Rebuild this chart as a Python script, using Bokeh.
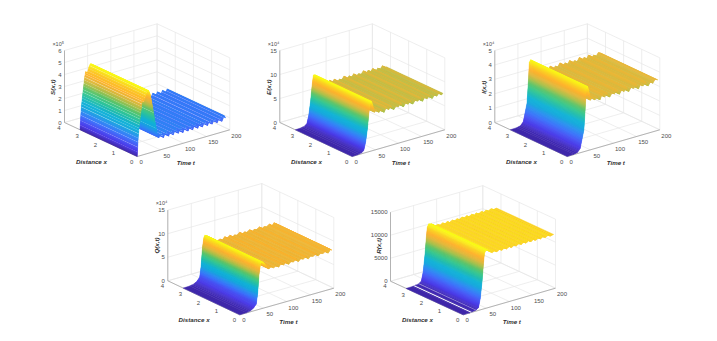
import numpy as np
from bokeh.core.properties import value
from bokeh.embed import file_html
from bokeh.layouts import column, row
from bokeh.models import ColumnDataSource, Spacer
from bokeh.plotting import figure
from bokeh.resources import INLINE

# ---------- values ----------
x_ticks = [0, 1, 2, 3, 4]
t_ticks = [0, 50, 100, 150, 200]

s_ticks = [0, 1, 2, 3, 4, 5, 6]
s_t = [0, 1, 2.2, 4.3, 7, 10, 12, 14, 16, 19, 22, 25, 28, 32, 38, 43, 47,
       52, 57, 62, 68, 73, 78, 83, 89, 94, 99, 104, 110, 115, 120, 125, 131, 136, 141, 146,
       152, 157, 162, 167, 173, 178, 183, 188, 191]
s_z = [0, 0.8, 1.6, 2.4, 3.3, 4.3, 4.7, 4.4, 4.6, 5.0, 5.25, 5.2, 4.9, 4.05, 2.6, 1.5, 1.05,
       1.45, 0.95, 1.45, 0.95, 1.4, 0.95, 1.4, 0.95, 1.4, 0.9, 1.35, 0.9, 1.35, 0.9, 1.35, 0.9, 1.35, 0.9, 1.3,
       0.9, 1.3, 0.9, 1.3, 0.9, 1.3, 0.9, 1.3, 1.1]
s_streaks = [0.4, 0.9, 1.5, 2.0, 2.8, 3.4, 4.0, 4.7, 5.3, 6.1, 6.8, 7.6, 8.3, 9.1, 9.8, 10.7, 11.4, 13.5, 16.5, 18, 20,
             35, 41, 50, 53, 55, 60, 63, 65, 71, 74, 76, 81, 84, 86, 92, 95, 97, 102, 105, 107, 113, 116, 118, 123,
             126, 128, 134, 137, 139, 144, 147, 149, 155, 158, 160, 165, 168, 170, 176, 179, 181, 186]

e_ticks = [0, 5, 10, 15]
e_t = [0, 12, 20, 25, 29, 33, 36, 39, 42, 45, 48,
       53, 58, 63, 69, 74, 79, 84, 90, 95, 100, 105, 111, 116, 121, 126, 131, 136, 142, 147,
       152, 157, 162, 167, 173, 178, 183, 188, 193, 196]
e_z = [0, 0.05, 0.2, 0.6, 2.2, 5.0, 8.0, 10.3, 10.3, 9.2, 7.9,
       8.2, 7.6, 8.0, 7.3, 8.25, 7.6, 8.2, 7.3, 7.9, 7.6, 8.25, 7.3, 8.0, 7.55, 8.15, 7.3, 7.9, 7.6, 8.2,
       7.3, 8.0, 7.55, 8.1, 7.3, 7.9, 7.5, 8.1, 7.5, 7.7]

i_ticks = [0, 1, 2, 3, 4, 5]
i_t = [0, 14, 22, 28, 32, 36, 39, 41, 44, 47, 50,
       55, 60, 65, 71, 76, 81, 86, 92, 97, 102, 107, 113, 118, 123, 128, 133, 138, 144, 149,
       154, 159, 164, 169, 175, 180, 185, 190, 196]
i_z = [0, 0.02, 0.08, 0.3, 0.9, 1.5, 3.0, 4.3, 4.45, 4.1, 3.45,
       3.62, 3.38, 3.55, 3.28, 3.64, 3.38, 3.62, 3.28, 3.52, 3.4, 3.65, 3.28, 3.55, 3.38, 3.62, 3.28, 3.52, 3.4, 3.64,
       3.28, 3.55, 3.38, 3.62, 3.28, 3.52, 3.38, 3.6, 3.5]

q_ticks = [0, 5, 10, 15]
q_t = [0, 14, 22, 29, 35, 38, 41, 44, 46, 50, 55, 62,
       67, 72, 78, 83, 88, 93, 99, 104, 109, 114, 120, 125, 130, 135, 141, 146, 151, 156,
       162, 167, 172, 177, 183, 188, 193, 196]
q_z = [0, 0.05, 0.2, 0.6, 1.3, 3.5, 7.5, 9.5, 9.9, 9.7, 9.0, 8.0,
       8.35, 7.95, 8.2, 7.8, 8.4, 7.95, 8.4, 7.8, 8.2, 8.0, 8.45, 7.8, 8.25, 8.0, 8.4, 7.8, 8.2, 8.0,
       8.4, 7.8, 8.2, 8.0, 8.4, 7.8, 8.4, 8.2]

r_ticks = [0, 5000, 10000, 15000]
r_t = [0, 14, 27, 33, 37, 41, 44, 46, 49, 54, 63,
       68, 73, 79, 84, 89, 94, 100, 105, 110, 115, 121, 126, 131, 136, 142, 147, 152, 157,
       163, 168, 173, 178, 184, 189, 196]
r_z = [0, 20, 200, 600, 2500, 6200, 10000, 12000, 12600, 12500, 11700,
       11950, 11600, 11950, 11600, 11950, 11600, 11950, 11600, 11950, 11650, 12000, 11650, 12000, 11650,
       12000, 11650, 12000, 11650, 12000, 11650, 12000, 11650, 12000, 11650, 11800]
r_gaps = [8, 16, 25]

parula = ["#3e26a8", "#4736e6", "#4752f4", "#3a72fa", "#2a8ef0", "#14a8dc", "#11b2d6",
          "#20bcb0", "#37c78f", "#5cc46a", "#a8c04a", "#e0b83c", "#feb22e", "#fbd024", "#f9fb15"]

# ---------- drawing style and placement ----------
FONT = "Liberation Sans"
X_END = np.pi
rgb_stops = np.array([[int(c[i:i + 2], 16) for i in (1, 3, 5)] for c in parula], float)


def shade(v):
    pos = np.clip(v, 0, 1) * (len(parula) - 1)
    rgb = [np.interp(pos, np.arange(len(parula)), rgb_stops[:, k]) for k in range(3)]
    return "#%02x%02x%02x" % tuple(int(round(c)) for c in rgb)


def panel(bounds, origin, x_end, t_end, dz, ztop, zticks, tt, zz, name, exp,
          streaks=(), gaps=()):
    left, top, right, bottom = bounds
    p = figure(width=right - left, height=bottom - top, x_range=(left, right), y_range=(bottom, top),
               x_axis_location=None, y_axis_location=None, toolbar_location=None,
               output_backend="svg", min_border=0, outline_line_color=None,
               background_fill_color="white", border_fill_color="white")
    p.grid.visible = False
    origin = np.array(origin, float)
    vx = (np.array(x_end, float) - origin) / 4
    vt = (np.array(t_end, float) - origin) / 200
    vz = np.array([0, -dz / ztop], float)

    def proj(x, t, z):
        return origin + vx * x + vt * t + vz * z

    # walls and floor
    gx, gy = [], []

    def seg(a, b):
        gx.append([a[0], b[0]])
        gy.append([a[1], b[1]])

    for z in zticks:
        seg(proj(4, 0, z), proj(4, 200, z))
        seg(proj(4, 200, z), proj(0, 200, z))
    for t in t_ticks:
        seg(proj(4, t, 0), proj(4, t, ztop))
        seg(proj(0, t, 0), proj(4, t, 0))
    for x in x_ticks:
        seg(proj(x, 200, 0), proj(x, 200, ztop))
        seg(proj(x, 0, 0), proj(x, 200, 0))
    p.multi_line(gx, gy, line_color="#e6e6e6", line_width=0.7)

    ax = [proj(4, 0, ztop), proj(4, 0, 0), proj(0, 0, 0), proj(0, 200, 0)]
    p.line([a[0] for a in ax], [a[1] for a in ax], line_color="#9a9a9a", line_width=0.7)

    # surface, painted from the far end of t to the near end
    tt = np.array(tt, float)
    zz = np.array(zz, float)
    zmax = zz.max()
    quads = []

    def quad(t0, z0, t1, z1, colour, alpha=1.0, edge=True):
        a, b = proj(0, t0, z0), proj(0, t1, z1)
        c, d = proj(X_END, t1, z1), proj(X_END, t0, z0)
        quads.append(((t0 + t1) / 2, [a[0], b[0], c[0], d[0]], [a[1], b[1], c[1], d[1]],
                      colour, alpha, colour if edge else None))

    for i in range(len(tt) - 1):
        n = max(1, int(np.ceil(abs(zz[i + 1] - zz[i]) / zmax * 120)))
        for k in range(n):
            f0, f1 = k / n, (k + 1) / n
            t0, t1 = tt[i] + (tt[i + 1] - tt[i]) * f0, tt[i] + (tt[i + 1] - tt[i]) * f1
            z0, z1 = zz[i] + (zz[i + 1] - zz[i]) * f0, zz[i] + (zz[i + 1] - zz[i]) * f1
            quad(t0, z0, t1, z1, shade((z0 + z1) / 2 / zmax))

    def sliver(t, thickness, alpha):
        dt = 0.01
        z0, z1 = np.interp([t, t + dt], tt, zz)
        v = (proj(0, t + dt, z1) - proj(0, t, z0)) / dt
        ux = vx / np.hypot(*vx)
        per_t = abs(v[0] * ux[1] - v[1] * ux[0])
        w = thickness / max(per_t, 1e-6)
        z0, z1 = np.interp([t, t + w], tt, zz)
        quad(t, z0, t + w, z1, "#ffffff", alpha, False)
        quads[-1] = (t - 0.001,) + quads[-1][1:]

    for t in streaks:
        sliver(t, 0.6, 0.65)
    for t in gaps:
        sliver(t, 1.0, 1.0)

    quads.sort(key=lambda q: -q[0])
    src = ColumnDataSource(dict(xs=[q[1] for q in quads], ys=[q[2] for q in quads],
                                c=[q[3] for q in quads], a=[q[4] for q in quads],
                                e=[q[5] if q[5] else "#ffffff" for q in quads],
                                w=[0.5 if q[5] else 0 for q in quads]))
    p.patches("xs", "ys", source=src, fill_color="c", fill_alpha="a", line_color="e",
              line_width="w", line_alpha="a")

    # texts
    def text(x, y, s, size, colour="#4d4d4d", align="center", angle=0, style="normal"):
        p.text([x], [y], text=[s], text_font=value(FONT), text_font_size=size, text_color=colour,
               text_align=align, text_baseline="middle", angle=angle, text_font_style=style)

    for x in x_ticks:
        a = proj(x, 0, 0)
        text(a[0] - 5.5, a[1] + 5, str(x), "6px")
    for t in t_ticks:
        a = proj(0, t, 0)
        dx, dy = (4, 5) if t == 0 else (6.5, 6)
        text(a[0] + dx, a[1] + dy, str(t), "6px")
    for z in zticks:
        a = proj(4, 0, z)
        text(a[0] - 3, a[1], str(z), "6px", align="right")
    text(origin[0] - 45.7, origin[1] + 4.8, "Distance x", "6.2px", "#303030", style="bold italic")
    text(origin[0] + 48.6, origin[1] + 6.3, "Time t", "6.2px", "#303030", style="bold italic")
    corner = proj(4, 0, 0)
    text(corner[0] - 11.7, corner[1] - 35.3, name, "6.2px", "#303030", angle=np.pi / 2, style="bold italic")
    if exp:
        top_c = proj(4, 0, ztop)
        text(top_c[0] - 6.3, top_c[1] - 6.7, exp, "5.5px")
    return p


p1 = panel((0, 0, 245, 172), (136.7, 156), (64, 122), (229.3, 129.3), 72, 6, s_ticks, s_t, s_z,
           "S(x,t)", "×10⁵", streaks=s_streaks)
p2 = panel((245, 0, 470, 172), (351.7, 156), (279.3, 122), (444.3, 129.3), 72, 15, e_ticks, e_t, e_z,
           "E(x,t)", "×10⁴")
p3 = panel((470, 0, 701, 172), (566.7, 156), (494.3, 122), (659.3, 129.3), 72, 5, i_ticks, i_t, i_z,
           "I(x,t)", "×10⁴")
p4 = panel((150, 172, 355, 325), (239.3, 314.3), (167.3, 280.3), (333.3, 287.7), 70.7, 15, q_ticks, q_t, q_z,
           "Q(x,t)", "×10⁴")
p5 = panel((355, 172, 600, 325), (462.7, 314.3), (390, 280.7), (555, 287.7), 69, 15000, r_ticks, r_t, r_z,
           "R(x,t)", None, gaps=r_gaps)

page = column(row(p1, p2, p3), row(Spacer(width=150, height=153), p4, p5))
open("out.html", "w").write(file_html(page, INLINE))
